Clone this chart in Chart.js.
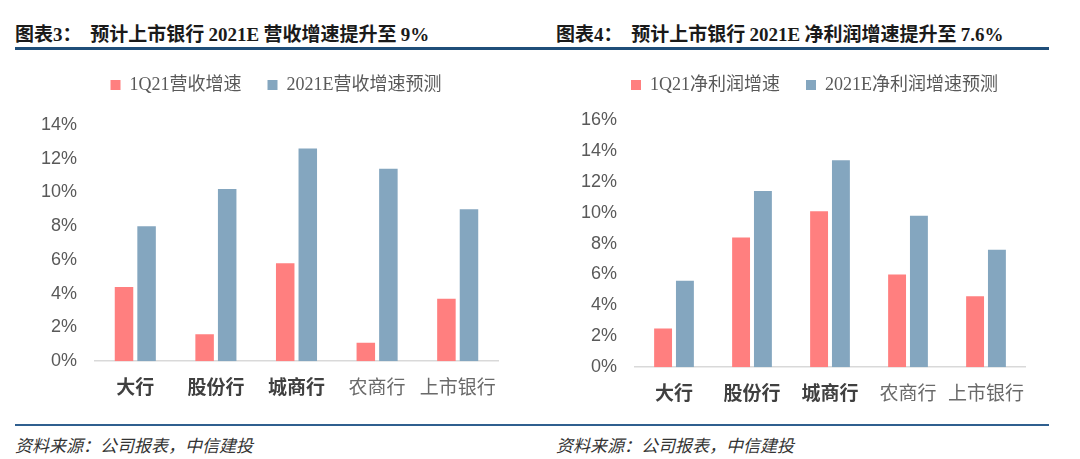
<!DOCTYPE html>
<html lang="zh">
  <head>
    <meta charset="UTF-8" />
    <title>上市银行增速</title>
    <script src="https://cdn.jsdelivr.net/npm/chart.js"></script>
    <style>
      body { margin: 0; width: 1080px; height: 459px; background: #fff; position: relative; overflow: hidden; }
      .title { position: absolute; top: 19px; font: bold 19px "Noto Sans CJK SC", sans-serif; color: #1a1a1a; white-space: nowrap; }
      .title .num { font-family: "Liberation Serif", serif; }
      .rule-top { position: absolute; left: 15px; width: 1034px; top: 47px; height: 3px; background: #1f4e79; }
      .rule-bottom { position: absolute; left: 15px; width: 1034px; top: 424px; height: 2px; background: #2f5f8f; }
      .source { position: absolute; top: 432px; font: italic 17px "Noto Sans CJK SC", sans-serif; color: #333; }
      .container { position: absolute; top: 50px; width: 540px; }
    </style>
    <script>
      const categories = ["大行", "股份行", "城商行", "农商行", "上市银行"];
      const revenueLabels = ["1Q21营收增速", "2021E营收增速预测"];
      const revenue1Q21 = [4.4, 1.6, 5.8, 1.1, 3.7];
      const revenue2021E = [8.0, 10.2, 12.6, 11.4, 9.0];
      const profitLabels = ["1Q21净利润增速", "2021E净利润增速预测"];
      const profit1Q21 = [2.5, 8.4, 10.1, 6.0, 4.6];
      const profit2021E = [5.6, 11.4, 13.4, 9.8, 7.6];

      const RED = "#ff7f7f";
      const BLUE = "#84a6bf";

      // extra room under the legend, and nudge it sideways
      const legendTweak = {
        id: "legendTweak",
        beforeInit(chart, args, opts) {
          const fit = chart.legend.fit;
          chart.legend.fit = function () {
            fit.bind(chart.legend)();
            this.height += opts.extra || 0;
          };
        },
        afterLayout(chart, args, opts) {
          chart.legend.left += opts.shift || 0;
          chart.legend.right += opts.shift || 0;
        },
      };

      function drawBarChart(divId, labels, first, second, yMax, pad, tweak) {
        const data = {
          labels: categories,
          datasets: [
            { label: labels[0], data: first, backgroundColor: RED, barPercentage: 0.82, categoryPercentage: 0.56 },
            { label: labels[1], data: second, backgroundColor: BLUE, barPercentage: 0.82, categoryPercentage: 0.56 },
          ],
        };
        const config = {
          type: "bar",
          data: data,
          plugins: [legendTweak],
          options: {
            animation: { duration: 0 },
            responsive: true,
            maintainAspectRatio: false,
            layout: { padding: pad },
            plugins: {
              legendTweak: tweak,
              tooltip: { enabled: false },
              legend: {
                labels: {
                  boxWidth: 10,
                  boxHeight: 10,
                  padding: 26,
                  color: "#595959",
                  font: { size: 18, family: "'Liberation Serif', 'Noto Sans CJK SC'" },
                },
              },
            },
            scales: {
              x: {
                grid: { display: false, drawTicks: false },
                border: { color: "#d9d9d9", width: 1.5 },
                ticks: {
                  padding: 14,
                  maxRotation: 0,
                  minRotation: 0,
                  autoSkip: false,
                  color: (ctx) => (ctx.index < 3 ? "#404040" : "#6a6a6a"),
                  font: (ctx) => ({ size: 19, family: "'Noto Sans CJK SC'", weight: ctx.index < 3 ? "bold" : "normal" }),
                },
              },
              y: {
                min: 0,
                max: yMax,
                afterFit: (scale) => { scale.width = 95; },
                grid: { display: false, drawTicks: false },
                border: { display: false },
                ticks: {
                  stepSize: 2,
                  padding: 18,
                  color: "#595959",
                  font: { size: 18, family: "'Liberation Sans'" },
                  callback: (v) => v + "%",
                },
              },
            },
          },
        };
        const ctx = document.getElementById(divId);
        return new Chart(ctx, config);
      }

      document.addEventListener("DOMContentLoaded", function () {
        drawBarChart("revenue-growth", revenueLabels, revenue1Q21, revenue2021E, 14,
          { left: 0, right: 42, top: 0, bottom: 0 }, { extra: 21, shift: 27 });
        drawBarChart("profit-growth", profitLabels, profit1Q21, profit2021E, 16,
          { left: 0, right: 55, top: 0, bottom: 2 }, { extra: 16, shift: 32 });
      });
    </script>
  </head>
  <body>
    <div class="title" style="left: 15px">图表<span class="num">3</span>：&nbsp; 预计上市银行 <span class="num">2021E</span> 营收增速提升至 <span class="num">9%</span></div>
    <div class="title" style="left: 556px">图表<span class="num">4</span>：&nbsp; 预计上市银行 <span class="num">2021E</span> 净利润增速提升至 <span class="num">7.6%</span></div>
    <div class="rule-top"></div>

    <div class="container" style="left: 0; height: 362px">
      <canvas id="revenue-growth"></canvas>
    </div>
    <div class="container" style="left: 540px; height: 370px">
      <canvas id="profit-growth"></canvas>
    </div>

    <div class="rule-bottom"></div>
    <div class="source" style="left: 15px">资料来源：公司报表，中信建投</div>
    <div class="source" style="left: 556px">资料来源：公司报表，中信建投</div>
  </body>
</html>
